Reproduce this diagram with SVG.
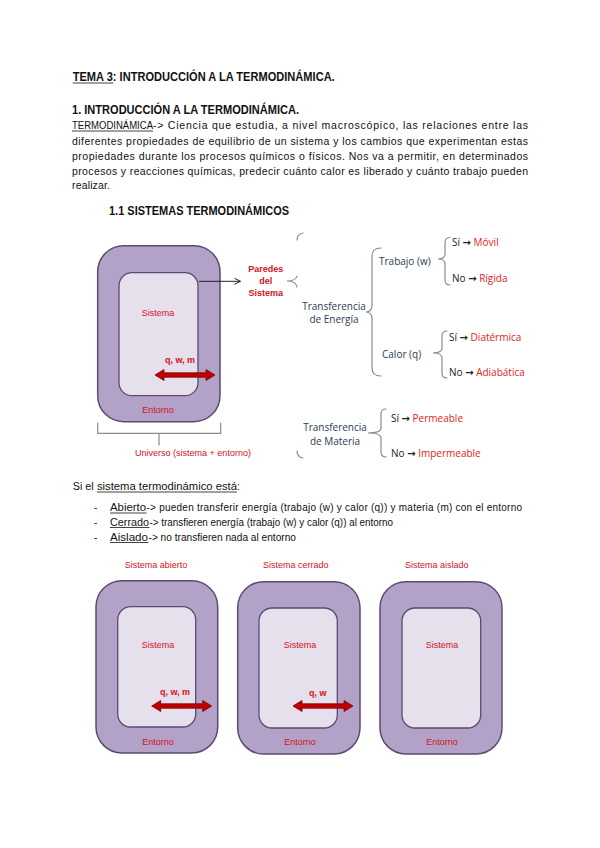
<svg xmlns="http://www.w3.org/2000/svg" width="600" height="848" viewBox="0 0 600 848">
<style>
.t{font-family:"Liberation Sans",Arial,sans-serif;fill:#111}
.b{font-weight:bold}
.p{font-size:10.5px}
.l{font-size:10px}
.r{font-family:"Liberation Sans",Arial,sans-serif;fill:#D4121E;font-size:9px;text-anchor:middle}
.d{font-family:"Open Sans","Liberation Sans",sans-serif;fill:#2E3B55;font-size:10px}
.k{fill:#222}
.rr{fill:#E31B23}
.ar{font-family:"DejaVu Sans",sans-serif;font-weight:bold;fill:#222}
.ul{stroke:#111;stroke-width:0.8}
.outer{fill:#B3A2C7;stroke:#5C4A72;stroke-width:1.5}
.inner{fill:#E6E0EC;stroke:#5C4A72;stroke-width:1.3}
.br{fill:none;stroke:#8C8C8C;stroke-width:1.2;stroke-linecap:round}
.arr{fill:#C00000;stroke:#7A0000;stroke-width:0.8}
</style>
<defs>
<marker id="ah" markerWidth="8" markerHeight="8" refX="7" refY="4" orient="auto" markerUnits="userSpaceOnUse">
<path d="M1,1 L7,4 L1,7" fill="none" stroke="#222" stroke-width="1"/>
</marker>
<path id="dbl" d="M0,0 L9,-5.5 L9,-2.2 L51,-2.2 L51,-5.5 L60,0 L51,5.5 L51,2.2 L9,2.2 L9,5.5 Z"/>
</defs>
<rect width="600" height="848" fill="#fff"/>

<g id="header">
<text class="t b" x="72.7" y="81" font-size="12" textLength="262" lengthAdjust="spacingAndGlyphs">TEMA 3: INTRODUCCIÓN A LA TERMODINÁMICA.</text>
<line class="ul" x1="72.7" y1="83" x2="113.3" y2="83"/>
<text class="t b" x="72" y="113.5" font-size="12" textLength="227" lengthAdjust="spacingAndGlyphs">1. INTRODUCCIÓN A LA TERMODINÁMICA.</text>
<text class="t p" y="129"><tspan x="72" textLength="81" lengthAdjust="spacingAndGlyphs">TERMODINÁMICA</tspan><tspan x="153" textLength="375" lengthAdjust="spacing">-&gt; Ciencia que estudia, a nivel macroscópico, las relaciones entre las</tspan></text>
<line class="ul" x1="72" y1="131" x2="153" y2="131"/>
<text class="t p" x="72" y="144.5" textLength="456" lengthAdjust="spacing">diferentes propiedades de equilibrio de un sistema y los cambios que experimentan estas</text>
<text class="t p" x="72" y="159.5" textLength="456" lengthAdjust="spacing">propiedades durante los procesos químicos o físicos. Nos va a permitir, en determinados</text>
<text class="t p" x="72" y="174.5" textLength="456" lengthAdjust="spacing">procesos y reacciones químicas, predecir cuánto calor es liberado y cuánto trabajo pueden</text>
<text class="t p" x="72" y="189" textLength="38" lengthAdjust="spacing">realizar.</text>
<text class="t b" x="109" y="214.5" font-size="12" textLength="180" lengthAdjust="spacingAndGlyphs">1.1 SISTEMAS TERMODINÁMICOS</text>
</g>

<g id="universo-diagram">
<rect class="outer" x="97.7" y="245.7" width="122.3" height="176" rx="26"/>
<rect class="inner" x="119" y="272.7" width="79" height="123" rx="13"/>
<text class="r" x="158" y="316">Sistema</text>
<text class="r" x="158" y="413">Entorno</text>
<text class="r b" x="180" y="362.5" font-size="8.5">q, w, m</text>
<use href="#dbl" class="arr" x="155" y="375"/>
</g>

<g id="paredes">
<text class="r b" x="265.7" y="271.5" font-size="8.5">Paredes</text>
<text class="r b" x="265.7" y="284" font-size="8.5">del</text>
<text class="r b" x="265.7" y="296" font-size="8.5">Sistema</text>
</g>

<g id="universo-label">
<text class="r" x="193" y="456" font-size="9">Universo  (sistema + entorno)</text>
</g>

<g id="energia">
<text class="d" x="334" y="309.5" text-anchor="middle">Transferencia</text>
<text class="d" x="334" y="322.5" text-anchor="middle">de Energía</text>
</g>
<g id="trabajo">
<text class="d" x="379" y="264.5">Trabajo (w)</text>
</g>
<g id="movil"><text class="d" x="452" y="245.5" font-size="9"><tspan class="k">Sí </tspan><tspan class="ar">→</tspan><tspan class="rr"> Móvil</tspan></text></g>
<g id="rigida"><text class="d" x="452" y="281.5" font-size="9"><tspan class="k">No </tspan><tspan class="ar">→</tspan><tspan class="rr"> Rígida</tspan></text></g>
<g id="calor"><text class="d" x="382" y="357.5">Calor (q)</text></g>
<g id="diatermica"><text class="d" x="449" y="340.5" font-size="9"><tspan class="k">Sí </tspan><tspan class="ar">→</tspan><tspan class="rr"> Diatérmica</tspan></text></g>
<g id="adiabatica"><text class="d" x="449" y="375.5" font-size="9"><tspan class="k">No </tspan><tspan class="ar">→</tspan><tspan class="rr"> Adiabática</tspan></text></g>
<g id="materia">
<text class="d" x="335" y="431" text-anchor="middle">Transferencia</text>
<text class="d" x="335" y="445" text-anchor="middle">de Materia</text>
</g>
<g id="permeable"><text class="d" x="391" y="421.5" font-size="9"><tspan class="k">Sí </tspan><tspan class="ar">→</tspan><tspan class="rr"> Permeable</tspan></text></g>
<g id="impermeable"><text class="d" x="391" y="456.5" font-size="9"><tspan class="k">No </tspan><tspan class="ar">→</tspan><tspan class="rr"> Impermeable</tspan></text></g>

<g id="connectors">
<line x1="199" y1="281.3" x2="240.5" y2="281.3" stroke="#222" stroke-width="1" marker-end="url(#ah)"/>
<path class="br" d="M97.7,423 V433.3 H220.7 V423 M159,433.3 V445"/>
<path class="br" d="M303,233 Q297,234 297,240 M297,276 Q296,281 287,281 Q296,281 297,287 M297,451 Q297,457 303,458"/>
<path class="br" d="M381,248 Q372,248 372,256 V305 Q372,312 366,312 Q372,312 372,319 V368 Q372,376 381,376"/>
<path class="br" d="M450,237.5 Q445,237.5 445,243 V254 Q445,259 438,259 Q445,259 445,264 V280 Q445,285 450,285"/>
<path class="br" d="M447,331 Q442,331 442,336 V348 Q442,353 433,353 Q442,353 442,358 V373 Q442,378 447,378"/>
<path class="br" d="M386,409 Q381,409 381,414 V428 Q381,433 368,433 Q381,433 381,438 V452 Q381,457 386,457"/>
</g>

<g id="bullets">
<text class="t l" y="490"><tspan x="72.7" textLength="21" lengthAdjust="spacingAndGlyphs">Si el</tspan><tspan x="97" textLength="140" lengthAdjust="spacingAndGlyphs">sistema termodinámico está</tspan><tspan x="237">:</tspan></text>
<line class="ul" x1="97" y1="492" x2="237" y2="492"/>
<text class="t l" x="94" y="511">-</text>
<text class="t l" y="511"><tspan x="110" textLength="36" lengthAdjust="spacingAndGlyphs">Abierto</tspan><tspan x="146.5" textLength="375.5" lengthAdjust="spacing">-&gt; pueden transferir energía (trabajo (w) y calor (q)) y materia (m) con el entorno</tspan></text>
<line class="ul" x1="110" y1="513" x2="146.5" y2="513"/>
<text class="t l" x="94" y="525.5">-</text>
<text class="t l" y="525.5"><tspan x="110" textLength="39" lengthAdjust="spacingAndGlyphs">Cerrado</tspan><tspan x="149.5" textLength="243.5" lengthAdjust="spacingAndGlyphs">-&gt; transfieren energía (trabajo (w) y calor (q)) al entorno</tspan></text>
<line class="ul" x1="110" y1="527.5" x2="149.5" y2="527.5"/>
<text class="t l" x="94" y="540.5">-</text>
<text class="t l" y="540.5"><tspan x="110" textLength="38" lengthAdjust="spacingAndGlyphs">Aislado</tspan><tspan x="148.5" textLength="147.5" lengthAdjust="spacingAndGlyphs">-&gt; no transfieren nada al entorno</tspan></text>
<line class="ul" x1="110" y1="542.5" x2="148.5" y2="542.5"/>
</g>

<g id="sistema-abierto">
<text class="r" x="156" y="568" font-size="8.5">Sistema abierto</text>
<rect class="outer" x="96" y="580.7" width="121.7" height="172.3" rx="26"/>
<rect class="inner" x="117.7" y="606.7" width="78" height="120.3" rx="13"/>
<text class="r" x="158" y="648">Sistema</text>
<text class="r" x="158" y="745">Entorno</text>
<text class="r b" x="175" y="694.5" font-size="8.5">q, w, m</text>
<use href="#dbl" class="arr" x="151.7" y="706"/>
</g>

<g id="sistema-cerrado">
<text class="r" x="295.7" y="568" font-size="8.5">Sistema cerrado</text>
<rect class="outer" x="237.7" y="581.7" width="122.3" height="172.3" rx="26"/>
<rect class="inner" x="259" y="608" width="78.3" height="120" rx="13"/>
<text class="r" x="300" y="648">Sistema</text>
<text class="r" x="300" y="745">Entorno</text>
<text class="r b" x="317.7" y="696" font-size="8.5">q, w</text>
<use href="#dbl" class="arr" x="293" y="706"/>
</g>

<g id="sistema-aislado">
<text class="r" x="436.7" y="568" font-size="8.5">Sistema aislado</text>
<rect class="outer" x="380" y="581.7" width="122" height="172.3" rx="26"/>
<rect class="inner" x="402" y="608" width="78.7" height="120" rx="13"/>
<text class="r" x="442" y="648">Sistema</text>
<text class="r" x="442" y="745">Entorno</text>
</g>
</svg>
